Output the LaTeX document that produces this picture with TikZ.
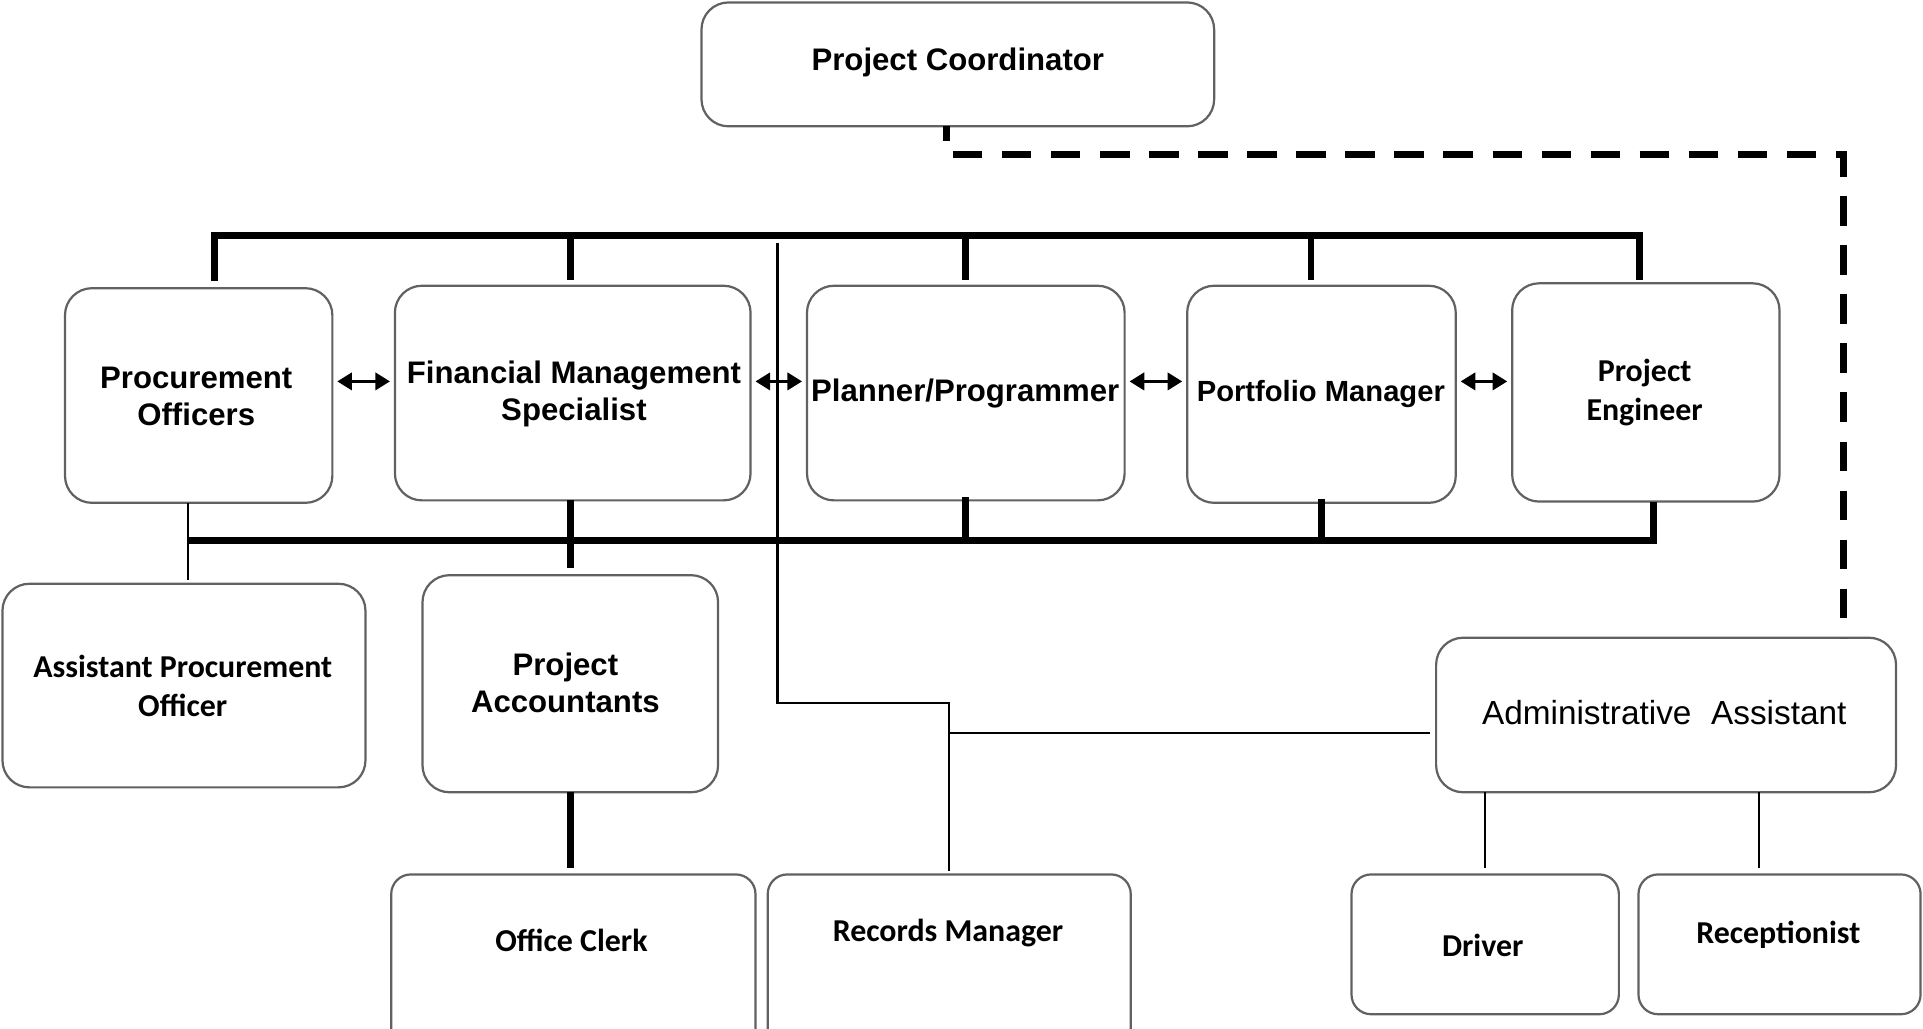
\documentclass[tikz,border=0pt]{standalone}
\usepackage{fontspec}
\setmainfont{Liberation Sans}
\newfontfamily\calibri{Carlito}
\usepackage{tikz}
\usetikzlibrary{arrows.meta, calc}
\tikzstyle{box} = [draw=black!62, line width=0.9pt, rounded corners=11pt, inner sep=0pt, outer sep=0pt]
\tikzstyle{smallbox} = [box, rounded corners=8pt]
\tikzstyle{title} = [align=center, font=\fontsize{12.7}{15}\selectfont\bfseries]
\tikzstyle{ctitle} = [align=center, font=\calibri\fontsize{13}{16}\selectfont\bfseries]
\tikzstyle{bus} = [line width=2.8pt]
\tikzstyle{thin} = [line width=0.9pt]
\tikzstyle{dashline} = [line width=2.8pt, dash pattern=on 12pt off 8pt, dash phase=6pt]
\tikzstyle{peer} = [line width=1.4pt, {Triangle[length=6pt,width=7pt]}-{Triangle[length=6pt,width=7pt]}, shorten <=2pt, shorten >=2pt]

\begin{document}
\begin{tikzpicture}[x=0.5pt, y=-0.5pt]
        \fill[white] (0,0) rectangle (1568,839);
        \useasboundingbox (0,0) rectangle (1568,839);

        % boxes
        \node[box, minimum width=209pt, minimum height=50.5pt] (pc) at (781,52.5) {};
        \node[box, minimum width=109pt, minimum height=87.5pt] (po) at (162,322.5) {};
        \node[box, minimum width=145pt, minimum height=87.5pt] (fms) at (467,320.5) {};
        \node[box, minimum width=129.5pt, minimum height=87.5pt] (pp) at (787.5,320.5) {};
        \node[box, minimum width=109.5pt, minimum height=88.5pt] (pm) at (1077.5,321.5) {};
        \node[box, minimum width=109pt, minimum height=89pt] (pe) at (1342,320) {};
        \node[box, minimum width=148pt, minimum height=83pt] (apo) at (150,559) {};
        \node[box, minimum width=120.5pt, minimum height=88.5pt] (pa) at (465,557.5) {};
        \node[box, minimum width=187.5pt, minimum height=63pt] (aa) at (1358.5,583) {};
        \node[smallbox, minimum width=148.5pt, minimum height=73.5pt] (oc) at (467.5,786.5) {};
        \node[smallbox, minimum width=148pt, minimum height=73.5pt] (rm) at (774,786.5) {};
        \node[smallbox, minimum width=109pt, minimum height=57pt] (dr) at (1211,770) {};
        \node[smallbox, minimum width=115pt, minimum height=57pt] (rc) at (1451,770) {};

        % texts
        \node[title] (pc-t) at (781,51) {Project Coordinator};
        \node[title] (po-t) at (160,323) {Procurement\\Officers};
        \node[title] (fms-t) at (468,321) {Financial Management\\Specialist};
        \node[title] (pp-t) at (787,321) {Planner/Programmer};
        \node[title, font=\fontsize{11.9}{15}\selectfont\bfseries] (pm-t) at (1077,321) {Portfolio Manager};
        \node[ctitle] (pe-t) at (1341,320) {Project\\Engineer};
        \node[ctitle] (apo-t) at (149,559) {Assistant Procurement\\Officer};
        \node[title] (pa-t) at (461,557) {Project\\Accountants};
        \node[font=\fontsize{13.6}{16}\selectfont] (aa-t) at (1357,581) {Administrative\hspace{8pt}Assistant};
        \node[ctitle] (oc-t) at (466,767) {Office Clerk};
        \node[ctitle] (rm-t) at (773,761) {Records Manager};
        \node[ctitle] (dr-t) at (1209,771) {Driver};
        \node[ctitle] (rc-t) at (1450,762) {Receptionist};

        % upper bus
        \coordinate (top1) at (175,192);
        \coordinate (top5) at (1337,192);
        \draw[bus, shorten <=3pt, shorten >=1.5pt] (top1 |- po.north) -- (top1) -- (top5) -- (top5 |- pe.north);
        \draw[bus, shorten >=2.5pt] (pa.north |- top1) -- (pa.north |- fms.north);
        \draw[bus, shorten >=2.5pt] (pp.north |- top1) -- (pp.north);
        \draw[bus, shorten >=2.5pt] ([xshift=-4.25pt]pm.north |- top1) -- ([xshift=-4.25pt]pm.north);

        % lower bus
        \coordinate (low1) at (153,441);
        \coordinate (low2) at (1348,441);
        \draw[bus] (low1) -- (low2) -- (low2 |- pe.south);
        \draw[bus, shorten >=3pt] (pa.north |- fms.south) -- (pa.north);
        \draw[bus, line cap=rect] (pp.south) -- (pp.south |- low1);
        \draw[bus, line cap=rect] (pm.south) -- (pm.south |- low1);
        \draw[thin, shorten >=1.5pt] (po.south -| low1) -- (apo.north -| low1);
        \draw[bus, shorten >=2.5pt] (pa.south) -- (pa.south |- oc.north);

        % records and admin lines
        \coordinate (rec1) at (634,198);
        \coordinate (rec2) at (774,573);
        \coordinate (rec3) at (774,598);
        \draw[thin, shorten >=1.5pt] (rec1) |- (rec2) -- (rm.north);
        \draw[thin, shorten >=2.5pt] (rec3) -- (rec3 -| aa.west);
        \draw[thin, shorten >=2.5pt] (dr.north |- aa.south) -- (dr.north);
        \draw[thin, shorten >=2.5pt] ([xshift=-8.5pt]rc.north |- aa.south) -- ([xshift=-8.5pt]rc.north);

        % dashed line to admin
        \coordinate (dc) at (1503,126);
        \draw[dashline] ([xshift=-4.5pt]pc.south) |- (dc) -- (dc |- aa.north);

        % peer arrows
        \coordinate (ar) at (0,311);
        \draw[peer] (po.east |- ar) -- (fms.west |- ar);
        \draw[peer] (fms.east |- ar) -- (pp.west |- ar);
        \draw[peer] (pp.east |- ar) -- (pm.west |- ar);
        \draw[peer] (pm.east |- ar) -- (pe.west |- ar);
\end{tikzpicture}
\end{document}
